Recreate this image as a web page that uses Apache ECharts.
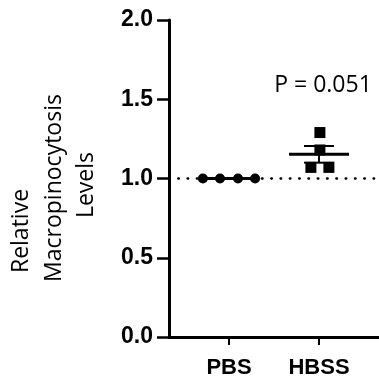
<!DOCTYPE html>
<html>
<head>
<meta charset="utf-8">
<script src="https://cdn.jsdelivr.net/npm/echarts@6/dist/echarts.min.js"></script>
<style>
  html, body { margin: 0; padding: 0; background: #fff; }
  #chart { width: 379px; height: 384px; }
</style>
</head>
<body>
<div id="chart"></div>
<script>
var categories = ['PBS', 'HBSS'];
var pbsValues = [1.0, 1.0, 1.0, 1.0];
var hbssValues = [1.29, 1.18, 1.07, 1.07];
var yTicks = [0, 0.5, 1.0, 1.5, 2.0];
var refLevel = 1.0;
var pText = 'P = 0.051';

// horizontal spread of the dots inside a group (layout only)
var pbsSpread = [-0.29, -0.1, 0.1, 0.29];
var hbssSpread = [0.01, 0.01, -0.09, 0.11];

function mean(a) {
  var s = 0;
  a.forEach(function(v) { s += v; });
  return s / a.length;
}
function sem(a) {
  var m = mean(a), s = 0;
  a.forEach(function(v) { s += (v - m) * (v - m); });
  return Math.sqrt(s / (a.length - 1)) / Math.sqrt(a.length);
}

var groups = [pbsValues, hbssValues];
var spreads = [pbsSpread, hbssSpread];
var symbols = ['circle', 'rect'];

var chart = echarts.init(document.getElementById('chart'), null, { renderer: 'canvas' });

var scatterSeries = groups.map(function(vals, gi) {
  return {
    type: 'scatter',
    symbol: symbols[gi],
    symbolSize: gi === 0 ? 10 : 11,
    itemStyle: { color: '#000', opacity: 1 },
    z: 3,
    data: vals.map(function(v, i) { return [gi + spreads[gi][i], v]; })
  };
});

var errData = groups.map(function(vals, gi) {
  return [gi, mean(vals), sem(vals)];
});

function renderErr(params, api) {
  var c = api.coord([api.value(0), api.value(1)]);
  var top = api.coord([api.value(0), api.value(1) + api.value(2)]);
  var bot = api.coord([api.value(0), api.value(1) - api.value(2)]);
  var st = { stroke: '#000', lineWidth: 2 };
  var children = [
    { type: 'line', shape: { x1: c[0] - 30, y1: c[1], x2: c[0] + 30, y2: c[1] }, style: { stroke: '#000', lineWidth: 3 } }
  ];
  if (api.value(2) > 0) {
    children.push(
      { type: 'line', shape: { x1: c[0], y1: top[1], x2: c[0], y2: bot[1] }, style: st },
      { type: 'line', shape: { x1: c[0] - 15, y1: top[1], x2: c[0] + 15, y2: top[1] }, style: st },
      { type: 'line', shape: { x1: c[0] - 15, y1: bot[1], x2: c[0] + 15, y2: bot[1] }, style: st }
    );
  }
  return { type: 'group', children: children };
}

var titleFont = '"Open Sans", sans-serif';

chart.setOption({
  animation: false,
  grid: { left: 169, right: 0, top: 20, bottom: 47 },
  xAxis: {
    type: 'value',
    min: -0.6667,
    max: 1.6667,
    axisLine: { show: true, onZero: false, lineStyle: { color: '#000', width: 3 } },
    axisTick: { show: true, length: 8, customValues: [0, 1], lineStyle: { color: '#000', width: 2 } },
    axisLabel: {
      customValues: [0, 1],
      formatter: function(v) { return categories[Math.round(v)] || ''; },
      color: '#000', fontWeight: 'bold', fontSize: 22,
      fontFamily: 'Liberation Sans, Arial, sans-serif', margin: 20
    },
    splitLine: { show: false }
  },
  yAxis: {
    type: 'value',
    min: 0,
    max: 2,
    interval: 0.5,
    axisLine: { show: true, onZero: false, lineStyle: { color: '#000', width: 3 } },
    axisTick: { show: true, length: 12, lineStyle: { color: '#000', width: 2.5 } },
    axisLabel: {
      customValues: yTicks,
      formatter: function(v) { return v.toFixed(1); },
      color: '#000', fontWeight: 'bold', fontSize: 23,
      fontFamily: 'Liberation Sans, Arial, sans-serif', margin: 16
    },
    splitLine: { show: false }
  },
  series: scatterSeries.concat([
    {
      type: 'custom',
      renderItem: renderErr,
      data: errData,
      z: 4,
      markLine: {
        silent: true,
        symbol: 'none',
        label: { show: false },
        lineStyle: { color: '#000', width: 2.5, type: [0.5, 8.8], cap: 'round' },
        data: [{ yAxis: refLevel }]
      }
    }
  ]),
  graphic: [
    { type: 'text', x: 21, y: 231, rotation: Math.PI / 2,
      style: { text: 'Relative', font: '23px ' + titleFont, fill: '#000', align: 'center', verticalAlign: 'middle' } },
    { type: 'text', x: 54, y: 188, rotation: Math.PI / 2,
      style: { text: 'Macropinocytosis', font: '23px ' + titleFont, fill: '#000', align: 'center', verticalAlign: 'middle' } },
    { type: 'text', x: 86, y: 185, rotation: Math.PI / 2,
      style: { text: 'Levels', font: '23px ' + titleFont, fill: '#000', align: 'center', verticalAlign: 'middle' } },
    { type: 'text', x: 323, y: 85,
      style: { text: pText, font: '23px ' + titleFont, fill: '#000', align: 'center', verticalAlign: 'middle' } }
  ]
});
</script>
</body>
</html>
